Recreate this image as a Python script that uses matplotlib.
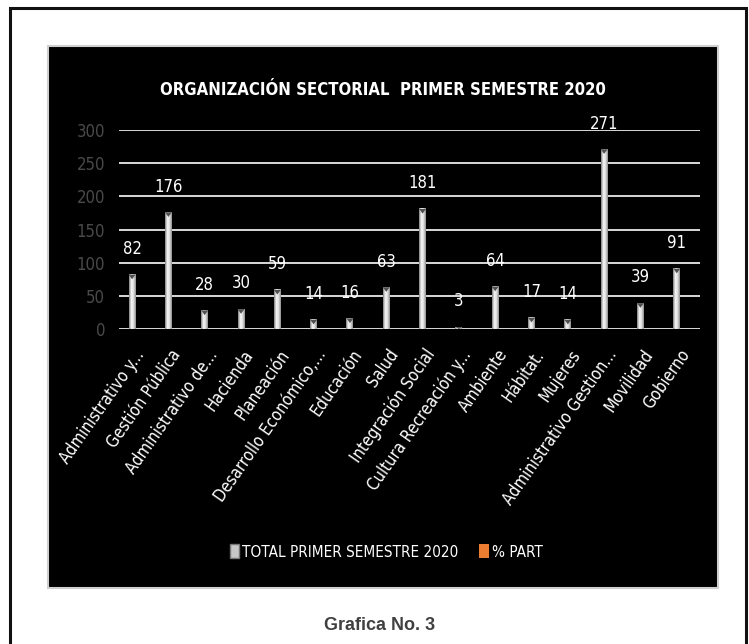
import numpy as np
import matplotlib.pyplot as plt
import matplotlib.transforms as mtransforms
from matplotlib.colors import LinearSegmentedColormap
from matplotlib.patches import Patch, Rectangle, Polygon

plt.rcParams["font.family"] = ["DejaVu Sans"]
plt.rcParams["font.stretch"] = "condensed"

# Datos de la gráfica
sectores = [
    "Administrativo y...", "Gestión Pública", "Administrativo de...", "Hacienda",
    "Planeación", "Desarrollo Económico,...", "Educación", "Salud",
    "Integración Social", "Cultura Recreación y...", "Ambiente", "Hábitat.",
    "Mujeres", "Administrativo Gestion...", "Movilidad", "Gobierno",
]
total_semestre = [82, 176, 28, 30, 59, 14, 16, 63, 181, 3, 64, 17, 14, 271, 39, 91]
ticks_y = [0, 50, 100, 150, 200, 250, 300]

W, H = 749, 644
fig = plt.figure(figsize=(W / 100, H / 100), dpi=100)
fig.patch.set_facecolor("white")

# marco exterior y fondo negro del gráfico
fig.patches.append(Rectangle((10 / W, -0.05), 736 / W, 1.05 - 8 / H, transform=fig.transFigure,
                             facecolor="none", edgecolor="#111111", linewidth=2.2, zorder=-2))
fig.patches.append(Rectangle((48 / W, 1 - 588 / H), 670 / W, 542 / H, transform=fig.transFigure,
                             facecolor="black", edgecolor="#cfcfcf", linewidth=1.5, zorder=-1))

ax = fig.add_axes([119 / W, 1 - 329 / H, 581 / W, 199 / H])
ax.set_zorder(2)
ax.patch.set_alpha(0)

n = len(sectores)
ancho = 0.19
desplaz = -0.14

ax.set_yticks(ticks_y)
for t in ticks_y:
    ax.axhline(t, color="#d9d9d9", linewidth=1.4, zorder=1)

# barras con degradado metálico
cmap = LinearSegmentedColormap.from_list("metal", ["#7a7a7a", "#f8f8f8", "#e0e0e0", "#8a8a8a"])
grad = np.linspace(0, 1, 64).reshape(1, -1)
for i, v in enumerate(total_semestre):
    x0 = i + desplaz - ancho / 2
    ax.imshow(grad, extent=[x0, x0 + ancho, 0, v], aspect="auto", cmap=cmap, zorder=2,
              interpolation="bilinear")
    punta = min(7, v)
    ax.add_patch(Polygon([[x0, v], [x0 + ancho, v], [x0 + ancho / 2, v - punta]],
                         closed=True, facecolor="#505050", edgecolor="none", zorder=3))
    ax.annotate(str(v), (i + desplaz, v), xytext=(0, 12), textcoords="offset points",
                ha="center", va="bottom", color="white", fontsize=12, annotation_clip=False)

ax.set_xlim(-0.5, n - 0.5)
ax.set_ylim(0, 300)

ax.set_xticks(range(n))
ax.set_xticklabels(sectores, rotation=55, ha="right", va="center", rotation_mode="anchor",
                   color="white", fontsize=12)
ax.tick_params(axis="x", length=0, pad=16)
ax.tick_params(axis="y", length=0, pad=10, labelcolor="#4a4a4a", labelsize=12)
# correr las etiquetas un poco a la derecha
corrimiento = mtransforms.ScaledTranslation(4 / 100, 0, fig.dpi_scale_trans)
for lbl in ax.get_xticklabels():
    lbl.set_transform(lbl.get_transform() + corrimiento)
for s in ax.spines.values():
    s.set_visible(False)

fig.text(383 / W, 1 - 90 / H, "ORGANIZACIÓN SECTORIAL  PRIMER SEMESTRE 2020", ha="center",
         va="center", color="white", fontsize=12, fontweight="bold")

handles = [Patch(facecolor="#c8c8c8", edgecolor="#777777", label="TOTAL PRIMER SEMESTRE 2020"),
           Patch(facecolor="#ED7D31", edgecolor="none", label="% PART")]
leg = fig.legend(handles=handles, loc="center", bbox_to_anchor=(386 / W, 1 - 552 / H), ncol=2,
                 frameon=False, fontsize=11, handlelength=0.6, handleheight=1.0,
                 handletextpad=0.2, columnspacing=1.4)
for t in leg.get_texts():
    t.set_color("white")

fig.text(380 / W, 1 - 626 / H, "Grafica No. 3", ha="center", va="center", color="#404040",
         fontsize=13, fontweight="bold", family="Liberation Sans", fontstretch="normal")

fig.savefig("out.png", dpi=100, facecolor="white")
